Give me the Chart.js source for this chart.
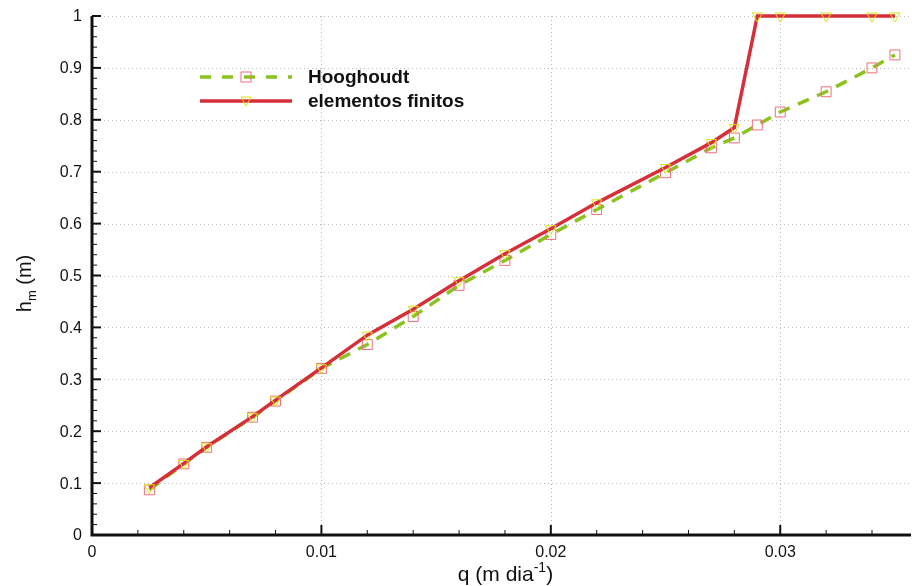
<!DOCTYPE html>
<html lang="es">
<head>
<meta charset="UTF-8">
<title>Altura máxima frente a recarga</title>
<script src="https://cdn.jsdelivr.net/npm/chart.js"></script>
<style>
  html, body { margin: 0; padding: 0; background: #fff; overflow: hidden; }
  canvas { display: block; }
</style>
</head>
<body>
<canvas id="chart" width="912" height="586"></canvas>
<script>
// recarga q (m/dia) y altura maxima h_m (m)
const qValues = [0.0025, 0.004, 0.005, 0.007, 0.008, 0.010, 0.012, 0.014, 0.016, 0.018,
                 0.020, 0.022, 0.025, 0.027, 0.028, 0.029, 0.030, 0.032, 0.034, 0.035];
const hooghoudt = [0.087, 0.137, 0.169, 0.227, 0.258, 0.321, 0.367, 0.421, 0.481, 0.529,
                   0.579, 0.627, 0.698, 0.746, 0.765, 0.790, 0.815, 0.854, 0.900, 0.925];
const finitos = [0.091, 0.138, 0.170, 0.228, 0.260, 0.322, 0.385, 0.435, 0.490, 0.542,
                 0.590, 0.640, 0.708, 0.756, 0.785, 1.0, 1.0, 1.0, 1.0, 1.0];
const seriesNames = ['Hooghoudt', 'elementos finitos'];
const xTicks = [0, 0.01, 0.02, 0.03];
const yTicks = [0, 0.1, 0.2, 0.3, 0.4, 0.5, 0.6, 0.7, 0.8, 0.9, 1];
const xMinorStep = 0.002;
const yMinorStep = 0.02;

const GREEN = '#8cc21e';
const RED = '#d62f3a';
const SQUARE = '#ee6f7c';
const TRIANGLE = '#d8e21c';
const FONT = '"Liberation Sans", Arial, sans-serif';

function pts(ys) {
  return qValues.map((q, i) => ({ x: q, y: ys[i] }));
}

function drawParts(ctx, parts, cx, base) {
  let w = 0;
  parts.forEach(p => { ctx.font = p[1]; w += ctx.measureText(p[0]).width; });
  let px = cx - w / 2;
  parts.forEach(p => {
    ctx.font = p[1];
    ctx.fillText(p[0], px, base + p[2]);
    px += ctx.measureText(p[0]).width;
  });
}

// rejilla punteada, ejes gruesos, marcas hacia dentro, etiquetas, leyenda y titulos
const frame = {
  id: 'frame',
  beforeDatasetsDraw(chart) {
    const { ctx, chartArea: a, scales: { x, y } } = chart;
    ctx.save();
    ctx.strokeStyle = '#b8b8b8';
    ctx.lineWidth = 1;
    ctx.setLineDash([1, 3]);
    xTicks.slice(1).forEach(v => {
      const px = Math.round(x.getPixelForValue(v)) + 0.5;
      ctx.beginPath(); ctx.moveTo(px, a.top); ctx.lineTo(px, a.bottom); ctx.stroke();
    });
    yTicks.slice(1).forEach(v => {
      const py = Math.round(y.getPixelForValue(v)) + 0.5;
      ctx.beginPath(); ctx.moveTo(a.left, py); ctx.lineTo(a.right, py); ctx.stroke();
    });
    ctx.restore();
  },
  afterDraw(chart) {
    const { ctx, chartArea: a, scales: { x, y } } = chart;
    ctx.save();
    ctx.strokeStyle = '#111';
    ctx.setLineDash([]);

    // marcas menores y mayores
    for (let v = 0; v <= x.max + 1e-9; v += xMinorStep) {
      const px = x.getPixelForValue(v);
      const major = xTicks.some(t => Math.abs(t - v) < 1e-9);
      ctx.lineWidth = major ? 2 : 1;
      ctx.beginPath(); ctx.moveTo(px, a.bottom); ctx.lineTo(px, a.bottom - (major ? 10 : 5)); ctx.stroke();
    }
    for (let v = 0; v <= y.max + 1e-9; v += yMinorStep) {
      const py = y.getPixelForValue(v);
      const major = yTicks.some(t => Math.abs(t - v) < 1e-9);
      ctx.lineWidth = major ? 2 : 1;
      ctx.beginPath(); ctx.moveTo(a.left, py); ctx.lineTo(a.left + (major ? 9 : 5), py); ctx.stroke();
    }

    // ejes
    ctx.lineWidth = 3;
    ctx.beginPath();
    ctx.moveTo(a.left, a.top);
    ctx.lineTo(a.left, a.bottom);
    ctx.lineTo(a.right, a.bottom);
    ctx.stroke();

    // etiquetas de los ejes
    ctx.fillStyle = '#111';
    ctx.font = '16px ' + FONT;
    ctx.textBaseline = 'middle';
    ctx.textAlign = 'right';
    yTicks.forEach(v => ctx.fillText(String(v), a.left - 10, y.getPixelForValue(v) + 1));
    ctx.textAlign = 'center';
    xTicks.forEach(v => ctx.fillText(String(v), x.getPixelForValue(v), a.bottom + 18));

    // leyenda
    const lx0 = a.left + 108, lx1 = a.left + 200, ly0 = a.top + 61, ly1 = a.top + 85;
    const mid = (lx0 + lx1) / 2;
    ctx.lineWidth = 3.5;
    ctx.strokeStyle = GREEN;
    ctx.setLineDash([11, 11]);
    ctx.beginPath(); ctx.moveTo(lx0, ly0); ctx.lineTo(lx1, ly0); ctx.stroke();
    ctx.setLineDash([]);
    ctx.lineWidth = 1;
    ctx.strokeStyle = SQUARE;
    ctx.strokeRect(mid - 5, ly0 - 5, 10, 10);
    ctx.lineWidth = 3.5;
    ctx.strokeStyle = RED;
    ctx.beginPath(); ctx.moveTo(lx0, ly1); ctx.lineTo(lx1, ly1); ctx.stroke();
    ctx.lineWidth = 1;
    ctx.strokeStyle = TRIANGLE;
    ctx.beginPath();
    ctx.moveTo(mid - 5, ly1 - 4); ctx.lineTo(mid + 5, ly1 - 4); ctx.lineTo(mid, ly1 + 5); ctx.closePath();
    ctx.stroke();

    ctx.font = 'bold 19px ' + FONT;
    ctx.textAlign = 'left';
    ctx.fillText(seriesNames[0], lx1 + 16, ly0 + 1);
    ctx.fillText(seriesNames[1], lx1 + 16, ly1 + 1);

    // titulo eje x: q (m dia^-1)
    ctx.textBaseline = 'alphabetic';
    const big = '21px ' + FONT, small = '14px ' + FONT;
    const partsX = [['q (m dia', big, 0], ['-1', small, -9], [')', big, 0]];
    drawParts(ctx, partsX, (a.left + a.right) / 2 + 4, 581);

    // titulo eje y: h_m (m)
    ctx.translate(31, (a.top + a.bottom) / 2 + 8);
    ctx.rotate(-Math.PI / 2);
    const bigY = '20px ' + FONT, smallY = '13px ' + FONT;
    const partsY = [['h', bigY, 0], ['m', smallY, 5], [' (m)', bigY, 0]];
    drawParts(ctx, partsY, 0, 0);
    ctx.restore();
  }
};

new Chart(document.getElementById('chart'), {
  type: 'line',
  data: {
    datasets: [
      {
        label: seriesNames[1],
        data: pts(finitos),
        borderColor: RED,
        borderWidth: 3.5,
        pointStyle: 'triangle',
        pointRotation: 180,
        pointRadius: 6,
        pointBorderColor: TRIANGLE,
        pointBorderWidth: 1,
        pointBackgroundColor: 'rgba(0,0,0,0)',
        tension: 0,
        order: 0
      },
      {
        label: seriesNames[0],
        data: pts(hooghoudt),
        borderColor: GREEN,
        borderWidth: 3.5,
        borderDash: [12, 9],
        pointStyle: 'rect',
        pointRadius: 7,
        pointBorderColor: SQUARE,
        pointBorderWidth: 1,
        pointBackgroundColor: 'rgba(0,0,0,0)',
        tension: 0,
        order: 1
      }
    ]
  },
  options: {
    responsive: false,
    animation: false,
    clip: false,
    layout: { autoPadding: false, padding: { top: 16, right: 1, left: 0, bottom: 0 } },
    plugins: {
      legend: { display: false },
      tooltip: { enabled: false }
    },
    scales: {
      x: {
        type: 'linear',
        min: 0,
        max: 0.0357,
        afterBuildTicks: s => { s.ticks = xTicks.map(v => ({ value: v })); },
        afterFit: s => { s.height = 51; },
        grid: { display: false, drawTicks: false },
        border: { display: false },
        ticks: { display: false }
      },
      y: {
        type: 'linear',
        min: 0,
        max: 1,
        afterBuildTicks: s => { s.ticks = yTicks.map(v => ({ value: v })); },
        afterFit: s => { s.width = 92; },
        grid: { display: false, drawTicks: false },
        border: { display: false },
        ticks: { display: false }
      }
    }
  },
  plugins: [frame]
});
</script>
</body>
</html>
